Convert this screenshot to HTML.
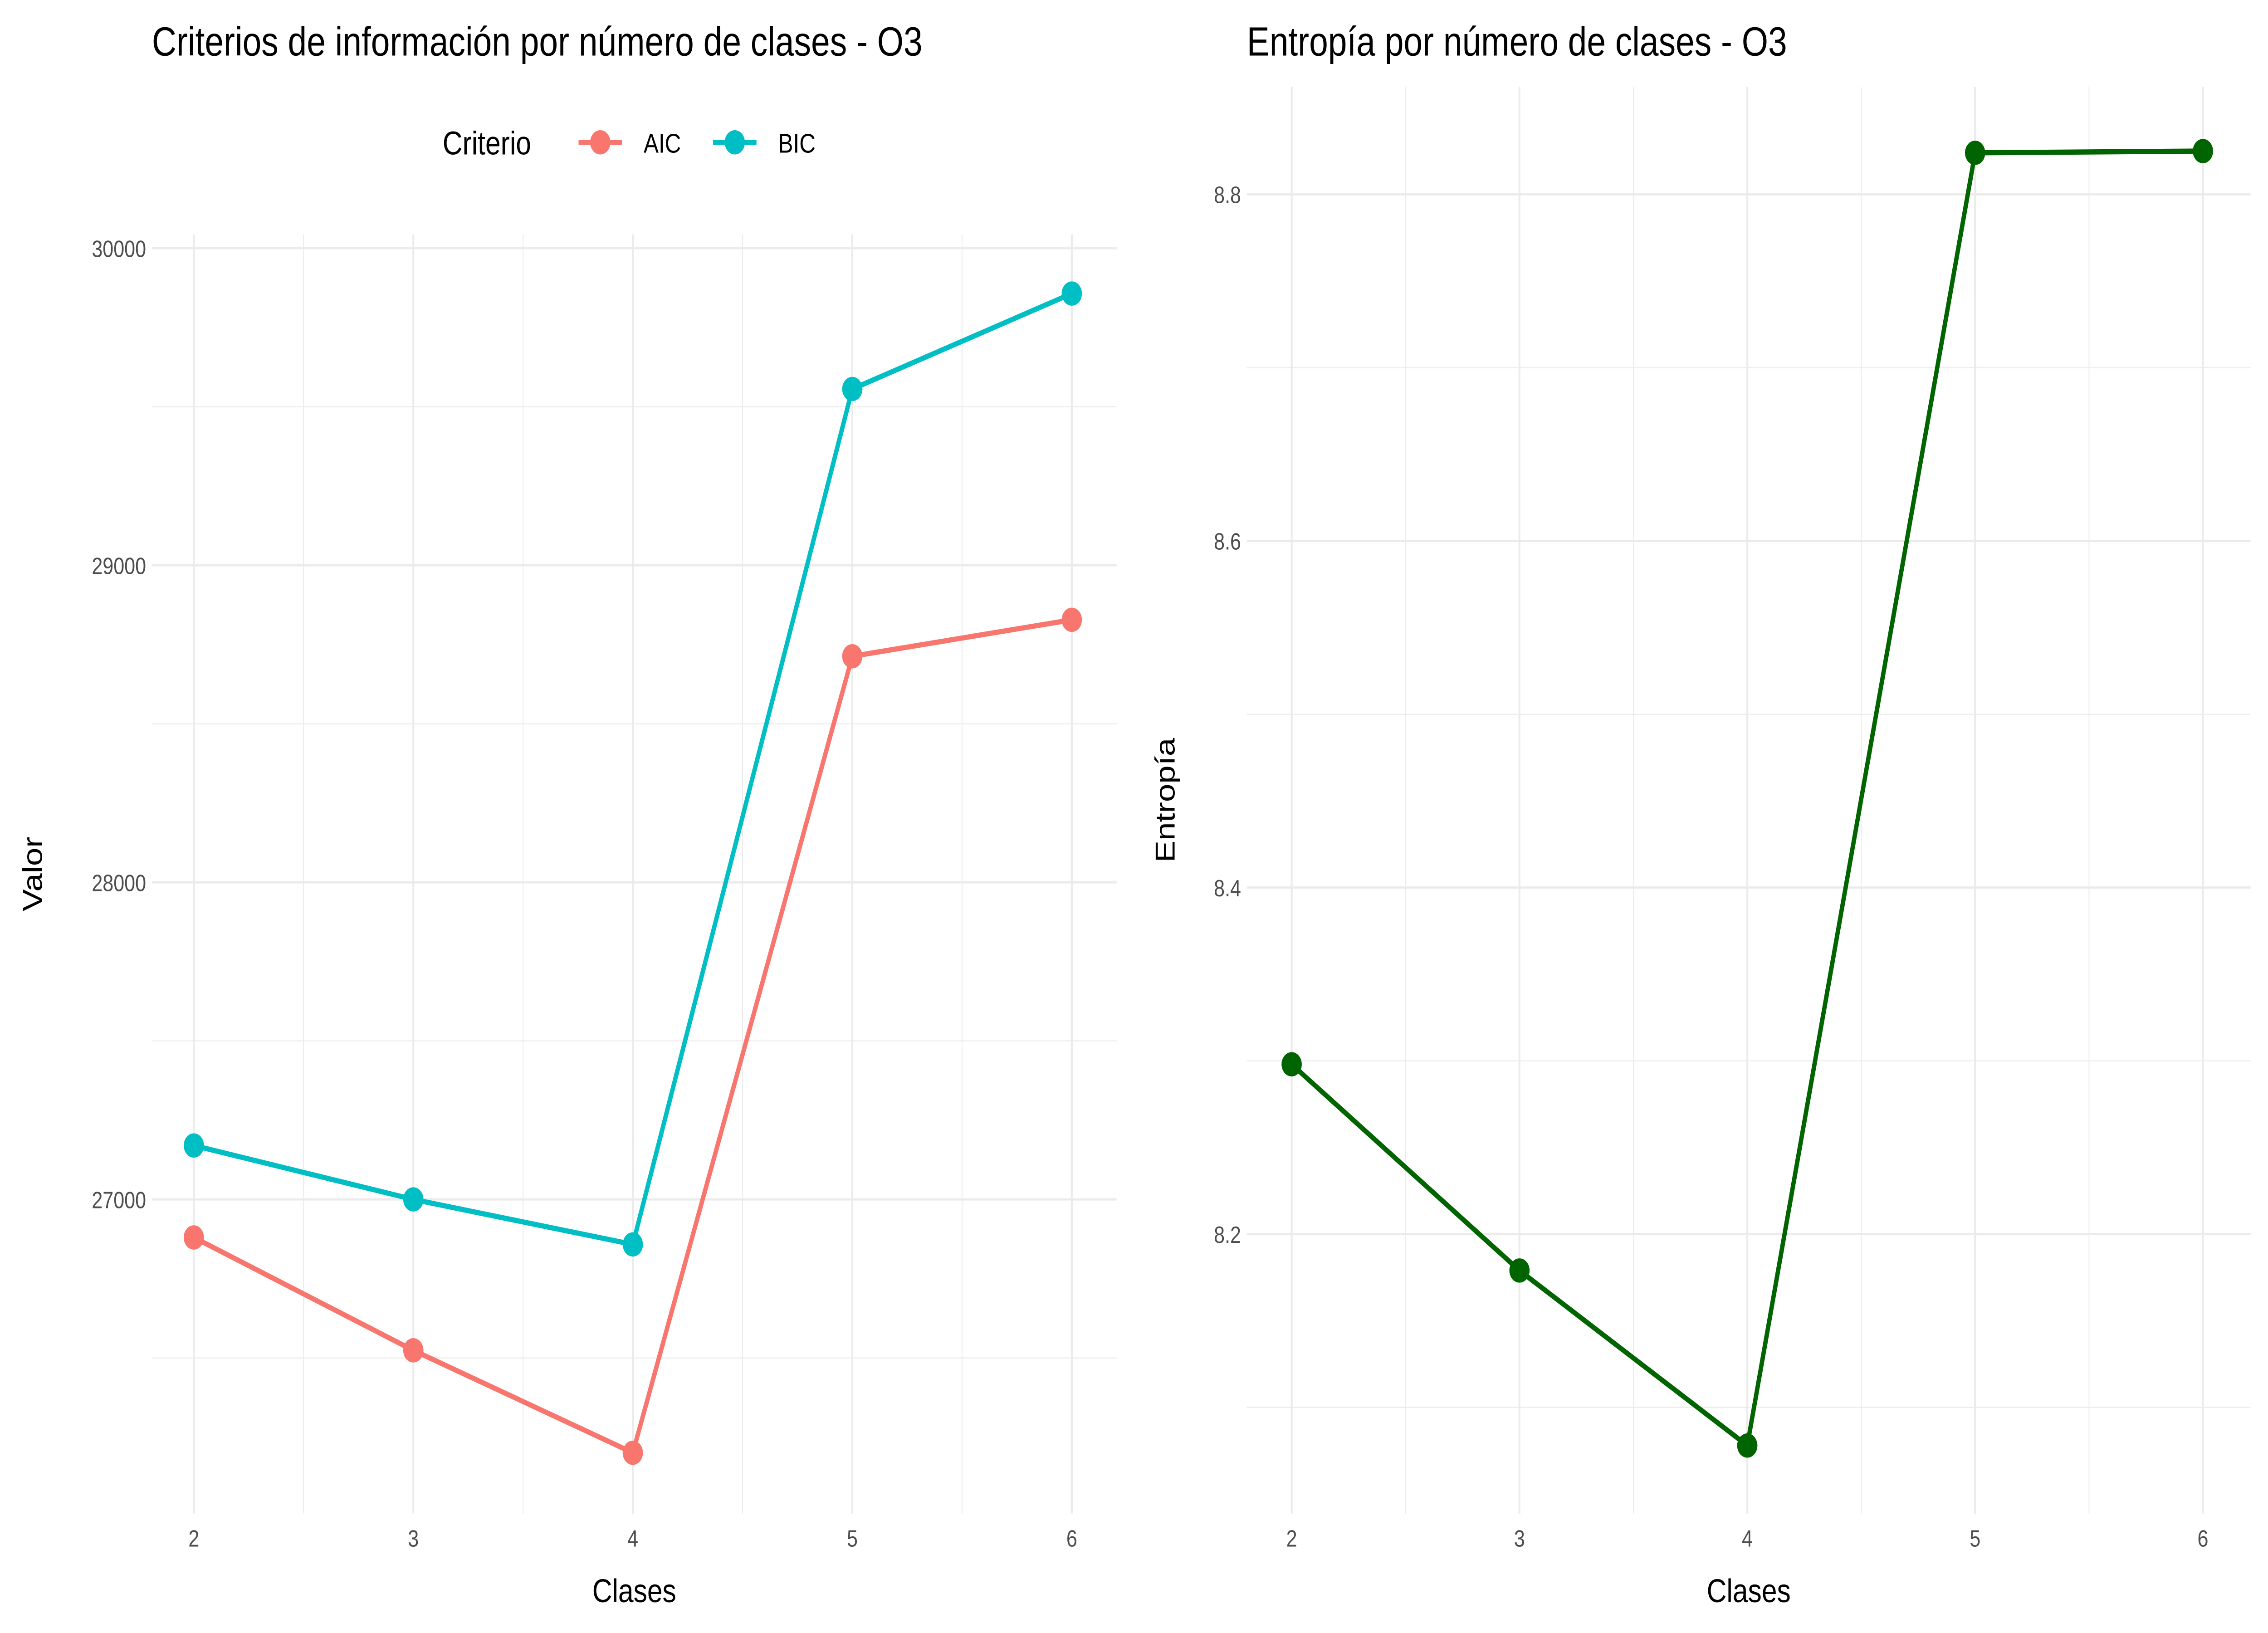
<!DOCTYPE html>
<html><head><meta charset="utf-8"><style>
html,body{margin:0;padding:0;background:#fff;width:100%;height:100%;overflow:hidden;}
svg{display:block;position:fixed;left:0;top:0;width:100vw;height:100vh;font-family:"Liberation Sans",Arial,sans-serif;}
</style></head><body>
<svg id="chart" viewBox="0 0 1568 940.8" preserveAspectRatio="none" xmlns="http://www.w3.org/2000/svg">
<rect width="1568" height="940.8" fill="#fff"/>
<g id="left"></g>
<g id="right"></g>
</svg>
<script>
const classes = [2, 3, 4, 5, 6];
const aicValues = [26880, 26524, 26201, 28713, 28828];
const bicValues = [27170, 27000, 26858, 29556, 29857];
const entropyValues = [8.298, 8.179, 8.078, 8.824, 8.825];
const leftYTicks = [27000, 28000, 29000, 30000];
const leftYMinor = [26500, 27500, 28500, 29500];
const rightYTicks = [8.2, 8.4, 8.6, 8.8];
const rightYMinor = [8.1, 8.3, 8.5, 8.7];
const xMinor = [2.5, 3.5, 4.5, 5.5];

const NS = "http://www.w3.org/2000/svg";
function mk(parent, tag, attrs, text) {
  const e = document.createElementNS(NS, tag);
  for (const k in attrs) e.setAttribute(k, attrs[k]);
  if (text !== undefined) e.textContent = text;
  parent.appendChild(e);
  return e;
}
function lin(d0, d1, r0, r1) { return v => r0 + (v - d0) * (r1 - r0) / (d1 - d0); }

function panel(g, o) {
  const x = lin(2, 6, o.x2, o.x6);
  const y = lin(o.yv0, o.yv1, o.yp0, o.yp1);
  o.yMinor.forEach(v => {
    const l = mk(g, "line", {x1: o.left, x2: o.right, y1: y(v), y2: y(v), stroke: "#ebebeb", "stroke-width": 0.6});
    
    
  });
  xMinor.forEach(v => {
    const l = mk(g, "line", {x1: x(v), x2: x(v), y1: o.top, y2: o.bottom, stroke: "#ebebeb", "stroke-width": 0.6});
    
    
  });
  o.yTicks.forEach(v => {
    const l = mk(g, "line", {x1: o.left, x2: o.right, y1: y(v), y2: y(v), stroke: "#ebebeb", "stroke-width": 1.3});
    
    
    const t = mk(g, "text", {x: o.left - 4, y: y(v) + 5, "text-anchor": "end", "font-size": 13.5, fill: "#4d4d4d"}, o.fmt(v));
    
    
  });
  classes.forEach(c => {
    const l = mk(g, "line", {x1: x(c), x2: x(c), y1: o.top, y2: o.bottom, stroke: "#ebebeb", "stroke-width": 1.3});
    
    
    const t = mk(g, "text", {x: x(c), y: o.bottom + 19, "text-anchor": "middle", "font-size": 13.5, fill: "#4d4d4d"}, c);
    
    
  });
  o.series.forEach(s => {
    const p = mk(g, "polyline", {points: classes.map((c, i) => x(c) + "," + y(s.values[i])).join(" "), fill: "none", stroke: s.color, "stroke-width": 3});
    
    
    classes.forEach((c, i) => {
      const pt = mk(g, "circle", {cx: x(c), cy: y(s.values[i]), r: 7, fill: s.color});
      
      
    });
  });
  const xt = mk(g, "text", {x: (o.left + o.right) / 2, y: 923, "text-anchor": "middle", "font-size": 19}, "Clases");
  
  
  const yt = mk(g, "text", {x: o.ytx, y: (o.top + o.bottom) / 2, "text-anchor": "middle", "font-size": 19, transform: "rotate(-90 " + o.ytx + " " + ((o.top + o.bottom) / 2) + ")"}, o.ytitle);
  
  
  const tt = mk(g, "text", {x: o.titleX, y: 32, "font-size": 23.5}, o.title);
  
  
}

panel(document.getElementById("left"), {
  x2: 134, x6: 741, yv0: 27000, yv1: 30000, yp0: 691, yp1: 143,
  left: 105, right: 772, top: 135, bottom: 872,
  yTicks: leftYTicks, yMinor: leftYMinor, fmt: v => String(v),
  series: [{name: "aic", values: aicValues, color: "#F8766D"}, {name: "bic", values: bicValues, color: "#00BFC4"}],
  ytitle: "Valor", ytx: 29, title: "Criterios de información por número de clases - O3", titleX: 105
});
panel(document.getElementById("right"), {
  x2: 893, x6: 1523, yv0: 8.2, yv1: 8.8, yp0: 711, yp1: 112,
  left: 862, right: 1556, top: 50, bottom: 872,
  yTicks: rightYTicks, yMinor: rightYMinor, fmt: v => v.toFixed(1),
  series: [{name: "entropy", values: entropyValues, color: "#006400"}],
  ytitle: "Entropía", ytx: 812, title: "Entropía por número de clases - O3", titleX: 862
});

const lg = mk(document.getElementById("left"), "g", {});


const lt = mk(lg, "text", {x: 306, y: 89, "font-size": 19}, "Criterio");


[["AIC", "#F8766D", 400], ["BIC", "#00BFC4", 493]].forEach(([n, c, x0]) => {
  const e = mk(lg, "g", {});
  
  
  mk(e, "line", {x1: x0, x2: x0 + 30, y1: 82, y2: 82, stroke: c, "stroke-width": 3});
  mk(e, "circle", {cx: x0 + 15, cy: 82, r: 7, fill: c});
  mk(e, "text", {x: x0 + 45, y: 88, "font-size": 15.5}, n);
});
</script>
</body></html>
